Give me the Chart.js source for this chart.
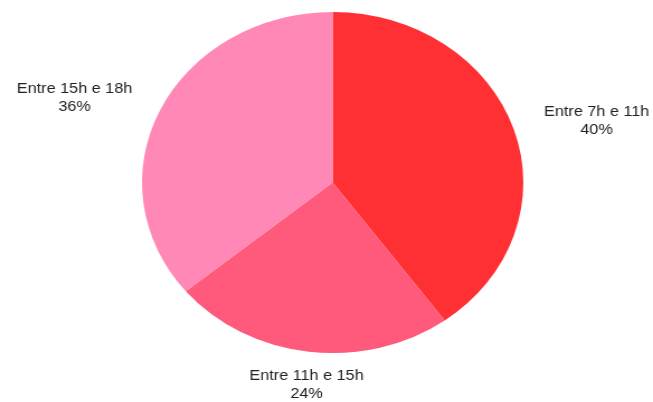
<!DOCTYPE html>
<html>
<head>
<meta charset="utf-8">
<script src="https://cdn.jsdelivr.net/npm/chart.js@4/dist/chart.umd.min.js"></script>
<style>
    html, body { margin: 0; padding: 0; background: #fff; overflow: hidden; }
    #wrap {
        width: 584px;
        height: 402px;
        transform: scaleX(1.11815);
        transform-origin: 0 0;
    }
</style>
</head>
<body>
<div id="wrap"><canvas id="pieChart"></canvas></div>
<script>
const labels = ["Entre 7h e 11h", "Entre 11h e 15h", "Entre 15h e 18h"];
const shares = [40, 24, 36];
const sliceColors = ["#ff3034", "#ff5a7b", "#ff88b6"];

// writes "label / NN%" outside each slice, pushed out along the slice's middle angle
const outsideLabels = {
    id: "outsideLabels",
    afterDatasetsDraw(chart) {
        const { ctx } = chart;
        const arcs = chart.getDatasetMeta(0).data;
        const lineHeight = 18;
        ctx.save();
        ctx.font = "14.5px 'Liberation Sans', Arial, sans-serif";
        ctx.fillStyle = "#222";
        arcs.forEach((arc, i) => {
            const mid = (arc.startAngle + arc.endAngle) / 2;
            const dx = Math.cos(mid);
            const dy = Math.sin(mid);
            const gap = 14 + 15 * Math.abs(dx);
            const ax = arc.x + dx * (arc.outerRadius + gap);
            const ay = arc.y + dy * (arc.outerRadius + gap);
            const lines = [labels[i], shares[i] + "%"];

            let top;
            if (Math.abs(dx) < 0.5) {
                ctx.textAlign = "center";
                top = dy > 0 ? ay : ay - lines.length * lineHeight;
            } else {
                ctx.textAlign = dx > 0 ? "left" : "right";
                top = ay - (lines.length * lineHeight) / 2;
            }
            ctx.textBaseline = "middle";
            lines.forEach((t, k) => {
                let x = ax;
                // second line sits centred under the first
                if (k > 0 && ctx.textAlign !== "center") {
                    const w = ctx.measureText(lines[0]).width;
                    x = ctx.textAlign === "left" ? ax + w / 2 : ax - w / 2;
                    ctx.textAlign = "center";
                    ctx.fillText(t, x, top + lineHeight * (k + 0.5));
                    ctx.textAlign = dx > 0 ? "left" : "right";
                    return;
                }
                ctx.fillText(t, x, top + lineHeight * (k + 0.5));
            });
        });
        ctx.restore();
    }
};

new Chart(document.getElementById("pieChart"), {
    type: "pie",
    data: {
        labels,
        datasets: [{
            data: shares,
            backgroundColor: sliceColors,
            borderWidth: 0
        }]
    },
    options: {
        responsive: true,
        maintainAspectRatio: false,
        animation: false,
        layout: { padding: { top: 12, bottom: 49, left: 11, right: 0 } },
        plugins: {
            legend: { display: false },
            tooltip: { enabled: false }
        }
    },
    plugins: [outsideLabels]
});
</script>
</body>
</html>
